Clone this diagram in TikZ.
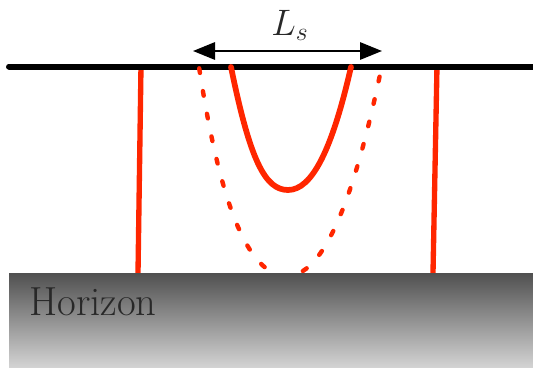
\RequirePackage{fix-cm}
\documentclass[tikz,border=0pt]{standalone}
\usetikzlibrary{arrows.meta}
\definecolor{redline}{RGB}{255,38,0}
\definecolor{groundtop}{RGB}{80,80,80}
\definecolor{groundbot}{RGB}{222,222,222}
\definecolor{textgray}{RGB}{40,40,40}
\begin{document}
\begin{tikzpicture}[x=0.75pt,y=-0.75pt,
  wall/.style={draw=redline, line width=4pt},
  surface/.style={draw=black, line width=4.5pt, line cap=round},
  ucurve/.style={draw=redline, line width=4.3pt, line cap=round},
  udotted/.style={draw=redline, line width=3.3pt, line cap=round, dash pattern=on 3.5pt off 13.8pt, dash phase=-1pt},
  span/.style={draw=black, line width=1.5pt, {Triangle[length=16.5pt,width=13pt]}-{Triangle[length=16.5pt,width=13pt]}},
  bigfont/.style={font=\fontsize{27.6}{32}\selectfont},
  groundfont/.style={font=\fontsize{30.5}{34}\selectfont}]
\useasboundingbox (0,0) rectangle (533,368);
% coordinates
\coordinate (wl1) at (141,66);
\coordinate (wl2) at (138,273);
\coordinate (wr1) at (437,66);
\coordinate (wr2) at (433,273);
\coordinate (sl) at (9,66.5);
\coordinate (sr) at (545,66.5);
\coordinate (ua) at (231,67);
\coordinate (ub) at (288,190);
\coordinate (uc) at (351,67);
\coordinate (da) at (199,67);
\coordinate (db) at (287,276);
\coordinate (dc) at (381,70);
\coordinate (al) at (193,51);
\coordinate (ar) at (382,51);
% walls
\draw[wall] (wl1) -- (wl2);
\draw[wall] (wr1) -- (wr2);
% surface
\draw[surface] (sl) -- (sr);
% curves
\draw[udotted] (da) .. controls (215,170) and (240,276) .. (db) .. controls (330,276) and (360,170) .. (dc);
\draw[ucurve] (ua) .. controls (250,160) and (265,190) .. (ub) .. controls (312,190) and (332,150) .. (uc);
% ground
\shade[top color=groundtop, bottom color=groundbot] (9,273) rectangle (545,375);
\node[anchor=base west, inner sep=0, text=textgray, groundfont] (hz) at (29,315) {Horizon};
% span arrow
\draw[span] (al) -- (ar);
\node[anchor=base, inner sep=0, text=textgray, bigfont] (ls) at (290,35) {$L_s$};
\end{tikzpicture}
\end{document}
